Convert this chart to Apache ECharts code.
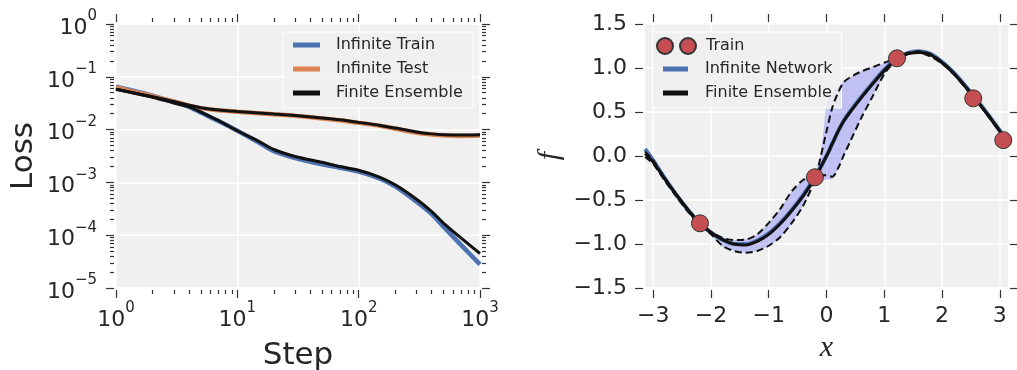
<!DOCTYPE html>
<html><head><meta charset="utf-8">
<script src="https://cdn.jsdelivr.net/npm/echarts@6/dist/echarts.min.js"></script>
<style>html,body{margin:0;padding:0;background:#fff}#c{width:1017px;height:370px}</style>
</head><body><div id="c"></div>
<script>
// ---------- left panel data (log-log loss curves) ----------
const steps    = [1, 2, 3, 4, 5, 7, 10, 15, 20, 30, 50, 70, 100, 150, 200, 300, 400, 500, 700, 1000];
const infTrain = [0.065, 0.044, 0.033, 0.027, 0.021, 0.0145, 0.0095, 0.0057, 0.0039, 0.0029, 0.0022, 0.0019, 0.0016, 0.00118, 0.00084, 0.00043, 0.00025, 0.000145, 0.000065, 0.000028];
const infTest  = [0.063, 0.043, 0.034, 0.0285, 0.0255, 0.0232, 0.0218, 0.0205, 0.0195, 0.0182, 0.0163, 0.015, 0.0134, 0.0118, 0.0104, 0.0087, 0.0081, 0.0078, 0.0076, 0.0077];
const ensTrain = [0.058, 0.041, 0.032, 0.027, 0.0215, 0.0148, 0.0095, 0.006, 0.0042, 0.0031, 0.0024, 0.002, 0.0017, 0.00125, 0.0009, 0.00048, 0.00028, 0.00017, 0.000088, 0.000045];
const ensTest  = [0.058, 0.042, 0.034, 0.029, 0.026, 0.0235, 0.022, 0.0207, 0.0198, 0.0185, 0.0166, 0.0153, 0.0137, 0.012, 0.0107, 0.009, 0.0083, 0.008, 0.0079, 0.008];
const stepTicks  = [1, 10, 100, 1000];
const stepMinor  = [2, 3, 4, 5, 6, 7, 8, 9, 20, 30, 40, 50, 60, 70, 80, 90, 200, 300, 400, 500, 600, 700, 800, 900];
const lossTicks  = [1e-5, 1e-4, 1e-3, 1e-2, 1e-1, 1];
const lossMinor  = [2e-5, 3e-5, 4e-5, 5e-5, 6e-5, 7e-5, 8e-5, 9e-5,
                    2e-4, 3e-4, 4e-4, 5e-4, 6e-4, 7e-4, 8e-4, 9e-4,
                    2e-3, 3e-3, 4e-3, 5e-3, 6e-3, 7e-3, 8e-3, 9e-3,
                    0.02, 0.03, 0.04, 0.05, 0.06, 0.07, 0.08, 0.09,
                    0.2, 0.3, 0.4, 0.5, 0.6, 0.7, 0.8, 0.9];

// ---------- right panel data (function fit) ----------
const xs       = [-3.14, -3.0, -2.8, -2.6, -2.4, -2.2, -2.0, -1.8, -1.6, -1.4, -1.2, -1.0, -0.8, -0.6, -0.4, -0.2, 0.0, 0.1, 0.2, 0.3, 0.4, 0.6, 0.8, 1.0, 1.2, 1.4, 1.6, 1.8, 2.0, 2.2, 2.4, 2.6, 2.8, 3.0, 3.14];
const infNet   = [0.08, -0.05, -0.25, -0.44, -0.61, -0.76, -0.87, -0.95, -1.0, -1.0, -0.96, -0.88, -0.76, -0.61, -0.44, -0.24, 0.0, 0.14, 0.28, 0.4, 0.5, 0.67, 0.83, 0.98, 1.1, 1.17, 1.19, 1.16, 1.07, 0.95, 0.8, 0.64, 0.47, 0.29, 0.15];
const ensMean  = [0.03, -0.07, -0.26, -0.44, -0.61, -0.76, -0.87, -0.95, -1.0, -1.01, -0.97, -0.89, -0.77, -0.62, -0.45, -0.25, 0.0, 0.14, 0.28, 0.4, 0.49, 0.66, 0.82, 0.97, 1.09, 1.16, 1.18, 1.15, 1.06, 0.94, 0.79, 0.63, 0.46, 0.28, 0.14];
const ensBandA = [0.05, -0.05, -0.25, -0.43, -0.6, -0.75, -0.86, -0.93, -0.955, -0.95, -0.89, -0.76, -0.6, -0.4, -0.27, -0.22, -0.22, -0.235, -0.14, 0.01, 0.15, 0.43, 0.68, 0.93, 1.08, 1.16, 1.17, 1.13, 1.05, 0.93, 0.78, 0.62, 0.45, 0.27, 0.13];
const ensBandB = [-0.01, -0.09, -0.28, -0.46, -0.63, -0.78, -0.89, -1.02, -1.08, -1.1, -1.08, -1.02, -0.92, -0.76, -0.56, -0.26, 0.28, 0.55, 0.72, 0.84, 0.89, 0.96, 1.01, 1.06, 1.11, 1.17, 1.19, 1.16, 1.07, 0.95, 0.8, 0.64, 0.47, 0.29, 0.15];
const fillX     = [-2.2, -2.0, -1.8, -1.6, -1.4, -1.2, -1.0, -0.8, -0.6, -0.4, -0.2, -0.1, 0.0, 0.1, 0.2, 0.3, 0.4, 0.6, 0.8, 1.0, 1.2];
const fillUpper = [-0.76, -0.86, -0.93, -0.955, -0.95, -0.89, -0.76, -0.6, -0.4, -0.26, -0.22, 0.0, 0.62, 0.72, 0.8, 0.85, 0.89, 0.96, 1.01, 1.05, 1.1];
const fillLower = [-0.79, -0.9, -1.03, -1.08, -1.1, -1.08, -1.03, -0.93, -0.77, -0.55, -0.27, -0.27, -0.27, -0.26, -0.15, 0.01, 0.15, 0.43, 0.68, 0.93, 1.09];
const trainX = [-2.19, -0.2, 1.22, 2.54, 3.06];
const trainY = [-0.765, -0.242, 1.11, 0.655, 0.18];
const xTicks = [-3, -2, -1, 0, 1, 2, 3];
const fTicks = [-1.5, -1.0, -0.5, 0.0, 0.5, 1.0, 1.5];

// ---------- styling ----------
const TXT = '#262626', TICK = '#333333', FONT = 'DejaVu Sans', BG = '#f0f0f0';
const BLUE = '#4c72b0', ORANGE = '#dd8452', BLACK = '#111111', RED = '#c44e52';
const zip = (a, b) => a.map((v, i) => [v, b[i]]);
const MINUS = '\u2212';

function logLabel(v) {
  const e = Math.round(Math.log10(v));
  return '{b|10}{s|' + (e < 0 ? MINUS : '') + Math.abs(e) + '}';
}
const rich = {
  b: {fontSize: 22, lineHeight: 30, verticalAlign: 'bottom', fontFamily: FONT, color: TXT},
  s: {fontSize: 15, lineHeight: 15, verticalAlign: 'top', fontFamily: FONT, color: TXT}
};

function tickAxis(extra, pos, vals, len) {
  return Object.assign({
    position: pos, offset: 2,
    axisLine: {show: false, onZero: false},
    axisTick: {show: true, length: len, customValues: vals, lineStyle: {color: TICK, width: 1.2}},
    axisLabel: {show: false},
    splitLine: {show: false}
  }, extra);
}
const logX = {type: 'log', logBase: 10, gridIndex: 0, min: 1, max: 1000};
const logY = {type: 'log', logBase: 10, gridIndex: 0, min: 1e-5, max: 1};
const linX = {type: 'value', gridIndex: 1, min: -Math.PI, max: Math.PI};
const linY = {type: 'value', gridIndex: 1, min: -1.5, max: 1.5, interval: 0.5};
const split = {show: true, lineStyle: {color: '#ffffff', width: 1.5}};

const xAxis = [
  Object.assign(tickAxis(logX, 'bottom', stepTicks, 8), {
    axisLabel: {show: true, customValues: stepTicks, formatter: logLabel, rich: rich, margin: 11},
    splitLine: split,
    name: 'Step', nameLocation: 'middle', nameGap: 50,
    nameTextStyle: {fontFamily: FONT, fontSize: 31, color: TXT}
  }),
  tickAxis(logX, 'bottom', stepMinor, 4),
  tickAxis(logX, 'top', stepTicks, 8),
  tickAxis(logX, 'top', stepMinor, 4),
  Object.assign(tickAxis(linX, 'bottom', xTicks, 8), {
    axisLabel: {show: true, customValues: xTicks, margin: 15, fontSize: 22, lineHeight: 22, fontFamily: FONT, color: TXT,
                formatter: v => (v < 0 ? MINUS : '') + Math.abs(v)},
    splitLine: split,
    name: 'x', nameLocation: 'middle', nameGap: 43,
    nameTextStyle: {fontFamily: 'Liberation Serif', fontStyle: 'italic', fontSize: 30, color: TXT}
  }),
  tickAxis(linX, 'top', xTicks, 8)
];
const yAxis = [
  Object.assign(tickAxis(logY, 'left', lossTicks, 8), {
    axisLabel: {show: true, customValues: lossTicks, formatter: logLabel, rich: rich, margin: 17},
    splitLine: split,
    name: 'Loss', nameLocation: 'middle', nameGap: 75,
    nameTextStyle: {fontFamily: FONT, fontSize: 31, color: TXT}
  }),
  tickAxis(logY, 'left', lossMinor, 4),
  tickAxis(logY, 'right', lossTicks, 8),
  tickAxis(logY, 'right', lossMinor, 4),
  Object.assign(tickAxis(linY, 'left', fTicks, 8), {
    axisLabel: {show: true, customValues: fTicks, margin: 16, fontSize: 22, fontFamily: FONT, color: TXT,
                formatter: v => (v < 0 ? MINUS : '') + Math.abs(v).toFixed(1)},
    splitLine: split,
    name: 'f', nameLocation: 'middle', nameGap: 78,
    nameTextStyle: {fontFamily: 'Liberation Serif', fontStyle: 'italic', fontSize: 30, color: TXT}
  }),
  tickAxis(linY, 'right', fTicks, 8)
];

function lineSeries(name, xi, yi, data, color, width, z, extra) {
  return Object.assign({
    name: name, type: 'line', xAxisIndex: xi, yAxisIndex: yi, data: data,
    showSymbol: false, symbol: 'none', smooth: 0.3,
    lineStyle: {color: color, width: width}, itemStyle: {color: color},
    z: z, silent: true, animation: false
  }, extra || {});
}

const series = [
  lineSeries('Infinite Train', 0, 0, zip(steps, infTrain), BLUE, 4.5, 2),
  lineSeries('Infinite Test', 0, 0, zip(steps, infTest), ORANGE, 4.5, 2),
  lineSeries('Finite Ensemble', 0, 0, zip(steps, ensTrain), BLACK, 3, 3),
  lineSeries('Finite Ensemble', 0, 0, zip(steps, ensTest), BLACK, 3, 3),
  {
    name: 'band', type: 'custom', xAxisIndex: 4, yAxisIndex: 4, silent: true, animation: false, z: 1,
    data: fillX.map((x, i) => [x, fillUpper[i], fillLower[i]]),
    encode: {x: 0, y: [1, 2]},
    renderItem: function (params, api) {
      if (params.dataIndex !== 0) return;
      const up = fillX.map((x, i) => api.coord([x, fillUpper[i]]));
      const lo = fillX.map((x, i) => api.coord([x, fillLower[i]])).reverse();
      return {type: 'polygon', shape: {points: up.concat(lo)}, style: {fill: 'rgba(0,0,255,0.2)'}};
    }
  },
  lineSeries('Infinite Network', 4, 4, zip(xs, infNet), BLUE, 4, 2),
  lineSeries('Finite Ensemble', 4, 4, zip(xs, ensMean), BLACK, 3, 3),
  lineSeries('bandA', 4, 4, zip(xs, ensBandA), BLACK, 2, 3, {lineStyle: {color: BLACK, width: 2, type: [7, 4]}}),
  lineSeries('bandB', 4, 4, zip(xs, ensBandB), BLACK, 2, 3, {lineStyle: {color: BLACK, width: 2, type: [7, 4]}}),
  {
    name: 'Train', type: 'scatter', xAxisIndex: 4, yAxisIndex: 4, data: zip(trainX, trainY),
    symbolSize: 17, itemStyle: {color: RED, borderColor: '#333333', borderWidth: 1, opacity: 1},
    z: 5, silent: true, animation: false
  }
];

const legendText = {fontFamily: FONT, fontSize: 16, color: TXT};
const option = {
  backgroundColor: '#ffffff',
  animation: false,
  grid: [
    {left: 116, top: 24, width: 364, height: 264, show: true, backgroundColor: BG, borderWidth: 0, outerBoundsMode: 'none'},
    {left: 645, top: 24, width: 363, height: 264, show: true, backgroundColor: BG, borderWidth: 0, outerBoundsMode: 'none'}
  ],
  xAxis: xAxis,
  yAxis: yAxis,
  legend: [
    {left: 293, top: 36, orient: 'vertical', icon: 'rect', itemWidth: 27, itemHeight: 5, itemGap: 6, padding: 0,
     selectedMode: false, data: ['Infinite Train', 'Infinite Test', 'Finite Ensemble'],
     textStyle: Object.assign({padding: [0, 0, 0, 11], lineHeight: 18}, legendText)},
    {left: 656, top: 37, orient: 'vertical', itemWidth: 39, itemHeight: 16, padding: 0, selectedMode: false,
     data: [{name: 'Train', icon: 'path://M8,0A8,8,0,1,1,8,16A8,8,0,1,1,8,0Z M31,0A8,8,0,1,1,31,16A8,8,0,1,1,31,0Z'}],
     itemStyle: {opacity: 1},
     textStyle: Object.assign({padding: [0, 0, 0, 5], lineHeight: 18}, legendText)},
    {left: 663, top: 60, orient: 'vertical', icon: 'rect', itemWidth: 25, itemHeight: 5, itemGap: 6, padding: 0,
     selectedMode: false, data: ['Infinite Network', 'Finite Ensemble'],
     textStyle: Object.assign({padding: [0, 0, 0, 12], lineHeight: 18}, legendText)}
  ],
  graphic: [
    {type: 'rect', z: 3, silent: true, shape: {x: 283, y: 32, width: 190, height: 76},
     style: {fill: 'rgba(240,240,240,0.8)', stroke: '#ffffff', lineWidth: 1}},
    {type: 'rect', z: 3, silent: true, shape: {x: 652.5, y: 32, width: 189, height: 76},
     style: {fill: 'rgba(240,240,240,0.8)', stroke: '#ffffff', lineWidth: 1}}
  ],
  series: series
};
const chart = echarts.init(document.getElementById('c'), null, {renderer: 'canvas'});
chart.setOption(option);
</script></body></html>
